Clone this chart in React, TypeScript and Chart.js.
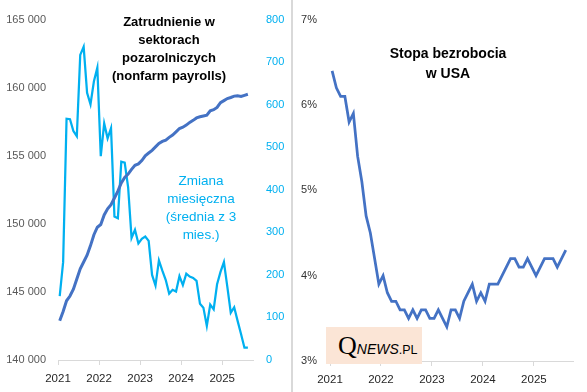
import React, { useEffect, useRef } from "react";
import { Chart, registerables } from "chart.js";

Chart.register(...registerables);

// Jan 2021 .. Aug 2025 (monthly)
const yearLabels = ["2021", "2022", "2023", "2024", "2025"];
const yearTickPositions = [-0.5, 11.5, 23.5, 35.5, 47.5];

// Nonfarm payrolls level (thousands)
const payrollLevel = [
  142880, 143570, 144350, 144700, 145200, 145950, 146700, 147200, 147700, 148400, 149200, 149750,
  149950, 150650, 151100, 151400, 151900, 152400, 153000, 153400, 153650, 154000, 154300, 154400,
  154650, 155000, 155200, 155400, 155650, 155900, 156050, 156150, 156350, 156520, 156750, 157000,
  157100, 157250, 157450, 157600, 157780, 157860, 157920, 157980, 158300, 158380, 158550, 158900,
  159050, 159200, 159280, 159380, 159400, 159350, 159440, 159520,
];

// Monthly change, 3-month average (thousands)
const payrollChange3m = [
  150, 230, 567, 566, 538, 526, 717, 736, 628, 601, 655, 687,
  479, 556, 521, 545, 337, 333, 466, 464, 406, 287, 306, 274,
  285, 290, 280, 200, 175, 234, 210, 188, 156, 165, 161, 197,
  176, 203, 196, 193, 186, 132, 123, 80, 130, 119, 178, 207,
  230, 172, 111, 124, 92, 61, 29, 29,
];

// Unemployment rate (%)
const unemploymentRate = [
  6.4, 6.2, 6.1, 6.1, 5.8, 5.9, 5.4, 5.1, 4.7, 4.5, 4.2, 3.9,
  4.0, 3.8, 3.7, 3.7, 3.6, 3.6, 3.5, 3.6, 3.5, 3.6, 3.6, 3.5,
  3.5, 3.6, 3.5, 3.4, 3.6, 3.6, 3.5, 3.7, 3.8, 3.9, 3.7, 3.8,
  3.7, 3.9, 3.9, 3.9, 4.0, 4.1, 4.2, 4.2, 4.1, 4.1, 4.2, 4.1,
  4.0, 4.1, 4.2, 4.2, 4.2, 4.1, 4.2, 4.3,
];

const levelTicks = [140000, 145000, 150000, 155000, 160000, 165000];
const changeTicks = [0, 100, 200, 300, 400, 500, 600, 700, 800];
const rateTicks = [3, 4, 5, 6, 7];

const FONT = "'Liberation Sans', Arial, sans-serif";
const DARK_BLUE = "#4472C4";
const LIGHT_BLUE = "#00B0F0";
const AXIS_GRAY = "#D9D9D9";

const toPoints = (arr: number[]) => arr.map((v, i) => ({ x: i, y: v }));
const fmtThousands = (v: number) =>
  String(Math.round(v)).replace(/\B(?=(\d{3})+(?!\d))/g, " ");

const setTicks = (vals: number[]) => (scale: any) => {
  scale.ticks = vals.map((v) => ({ value: v }));
};

const xAxis = (max: number, height: number) => ({
  type: "linear" as const,
  min: -0.5,
  max,
  afterBuildTicks: setTicks(yearTickPositions),
  afterFit: (s: any) => {
    s.height = height;
  },
  ticks: {
    autoSkip: false,
    maxRotation: 0,
    padding: 7,
    color: "#262626",
    font: { family: FONT, size: 11.5 },
    callback: (v: any) => {
      const idx = yearTickPositions.indexOf(Number(v));
      return idx >= 0 ? yearLabels[idx] : "";
    },
  },
  grid: {
    display: true,
    drawOnChartArea: false,
    drawTicks: true,
    tickLength: 5,
    color: AXIS_GRAY,
  },
  border: { display: true, color: AXIS_GRAY, width: 1 },
});

const hiddenGrid = { display: false, drawTicks: false, tickLength: 0 };

function LeftChart() {
  const ref = useRef<HTMLCanvasElement>(null);
  useEffect(() => {
    if (!ref.current) return;
    const chart = new Chart(ref.current, {
      type: "line",
      data: {
        datasets: [
          {
            data: toPoints(payrollLevel),
            yAxisID: "y",
            borderColor: DARK_BLUE,
            borderWidth: 3,
            pointRadius: 0,
            tension: 0,
          },
          {
            data: toPoints(payrollChange3m),
            yAxisID: "y1",
            borderColor: LIGHT_BLUE,
            borderWidth: 2.25,
            pointRadius: 0,
            tension: 0,
          },
        ],
      },
      options: {
        responsive: false,
        animation: false,
        devicePixelRatio: 1,
        layout: { padding: { top: 12, left: 0, right: 0, bottom: 0 } },
        plugins: { legend: { display: false }, tooltip: { enabled: false } },
        scales: {
          x: xAxis(56.5, 32),
          y: {
            position: "left",
            min: 140000,
            max: 165000,
            afterBuildTicks: setTicks(levelTicks),
            afterFit: (s: any) => {
              s.width = 58;
            },
            ticks: {
              padding: 12,
              color: "#595959",
              font: { family: FONT, size: 11 },
              callback: (v: any) => fmtThousands(Number(v)),
            },
            grid: hiddenGrid,
            border: { display: false },
          },
          y1: {
            position: "right",
            min: 0,
            max: 800,
            afterBuildTicks: setTicks(changeTicks),
            afterFit: (s: any) => {
              s.width = 38;
            },
            ticks: {
              padding: 13,
              color: LIGHT_BLUE,
              font: { family: FONT, size: 11 },
            },
            grid: hiddenGrid,
            border: { display: false },
          },
        },
      },
    } as any);
    return () => chart.destroy();
  }, []);
  return (
    <canvas
      ref={ref}
      width={291}
      height={392}
      style={{ position: "absolute", left: 0, top: 0, width: 291, height: 392 }}
    />
  );
}

function RightChart() {
  const ref = useRef<HTMLCanvasElement>(null);
  useEffect(() => {
    if (!ref.current) return;
    const chart = new Chart(ref.current, {
      type: "line",
      data: {
        datasets: [
          {
            data: toPoints(unemploymentRate),
            borderColor: DARK_BLUE,
            borderWidth: 2.75,
            pointRadius: 0,
            tension: 0,
          },
        ],
      },
      options: {
        responsive: false,
        animation: false,
        devicePixelRatio: 1,
        layout: { padding: { top: 13, left: 0, right: 14, bottom: 0 } },
        plugins: { legend: { display: false }, tooltip: { enabled: false } },
        scales: {
          x: xAxis(56.7, 31),
          y: {
            position: "left",
            min: 3,
            max: 7,
            afterBuildTicks: setTicks(rateTicks),
            afterFit: (s: any) => {
              s.width = 38;
            },
            ticks: {
              padding: 13,
              color: "#333333",
              font: { family: FONT, size: 11 },
              callback: (v: any) => `${v}%`,
            },
            grid: hiddenGrid,
            border: { display: false },
          },
        },
      },
    } as any);
    return () => chart.destroy();
  }, []);
  return (
    <canvas
      ref={ref}
      width={295}
      height={392}
      style={{ position: "absolute", left: 292, top: 0, width: 295, height: 392 }}
    />
  );
}

export default function App() {
  return (
    <div
      style={{
        position: "fixed",
        left: 0,
        top: 0,
        width: 587,
        height: 392,
        background: "#ffffff",
        overflow: "hidden",
        fontFamily: FONT,
      }}
    >
      <LeftChart />
      <RightChart />
      <div
        style={{
          position: "absolute",
          left: 291,
          top: 0,
          width: 2,
          height: 392,
          background: AXIS_GRAY,
        }}
      />
      <div
        style={{
          position: "absolute",
          left: 69,
          top: 13,
          width: 200,
          textAlign: "center",
          fontWeight: "bold",
          fontSize: 13,
          lineHeight: "18px",
          color: "#000",
        }}
      >
        Zatrudnienie w<br />sektorach<br />pozarolniczych<br />(nonfarm payrolls)
      </div>
      <div
        style={{
          position: "absolute",
          left: 141,
          top: 172,
          width: 120,
          textAlign: "center",
          fontSize: 13.5,
          lineHeight: "18px",
          color: LIGHT_BLUE,
        }}
      >
        Zmiana<br />miesięczna<br />(średnia z 3<br />mies.)
      </div>
      <div
        style={{
          position: "absolute",
          left: 368,
          top: 43,
          width: 160,
          textAlign: "center",
          fontWeight: "bold",
          fontSize: 14,
          lineHeight: "20px",
          color: "#000",
        }}
      >
        Stopa bezrobocia<br />w USA
      </div>
      <div
        style={{
          position: "absolute",
          left: 326,
          top: 327,
          width: 96,
          height: 37,
          background: "#FBE5D6",
        }}
      >
        <div
          style={{
            position: "absolute",
            left: 12,
            top: 6,
            whiteSpace: "nowrap",
            lineHeight: "25px",
            color: "#000",
          }}
        >
          <span style={{ fontFamily: "'Liberation Serif', serif", fontSize: 26 }}>Q</span>
          <span style={{ fontFamily: FONT, fontStyle: "italic", fontSize: 14 }}>NEWS</span>
          <span style={{ fontFamily: FONT, fontSize: 12.5 }}>.PL</span>
        </div>
      </div>
    </div>
  );
}
